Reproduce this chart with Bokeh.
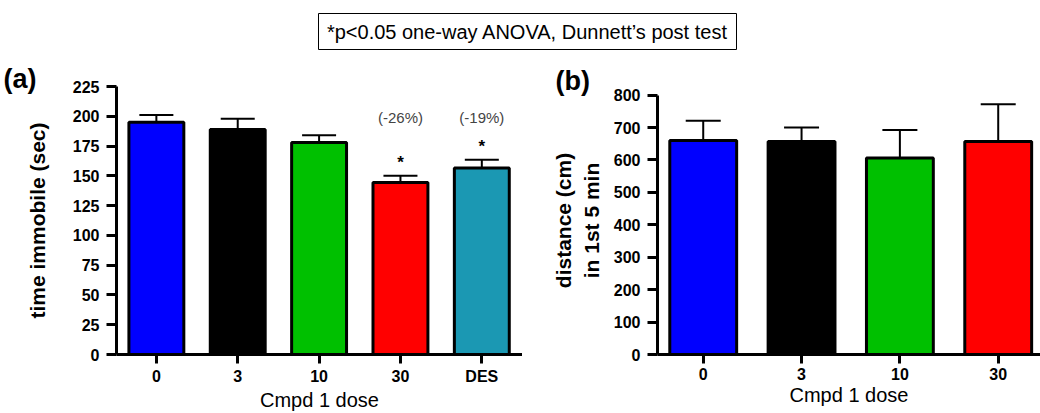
from bokeh.plotting import figure
from bokeh.models import Range1d, FixedTicker, Label, ColumnDataSource, Whisker, TeeHead, BoxAnnotation
from bokeh.layouts import column, row
from bokeh.embed import file_html
from bokeh.resources import INLINE
from bokeh.core.properties import value

FONT = "Liberation Sans"

# ---------------- data ----------------
a_doses = ["0", "3", "10", "30", "DES"]
a_means = [195, 189, 178, 144.5, 156.5]
a_sem = [6, 9, 6, 5.5, 7]
a_colors = ["#0000ff", "#000000", "#00c000", "#ff0000", "#1b98b3"]
a_pct = ["", "", "", "(-26%)", "(-19%)"]
a_sig = ["", "", "", "*", "*"]
a_yticks = [0, 25, 50, 75, 100, 125, 150, 175, 200, 225]

b_doses = ["0", "3", "10", "30"]
b_means = [660, 657, 606, 657]
b_sem = [61, 43, 86, 115]
b_colors = ["#0000ff", "#000000", "#00c000", "#ff0000"]
b_yticks = [0, 100, 200, 300, 400, 500, 600, 700, 800]

note_text = "*p<0.05 one-way ANOVA, Dunnett\u2019s post test"


def style_axes(p, yticks, xlabels, ylabel):
    p.xaxis.ticker = FixedTicker(ticks=list(range(len(xlabels))))
    p.xaxis.major_label_overrides = {i: t for i, t in enumerate(xlabels)}
    p.yaxis.ticker = FixedTicker(ticks=yticks)
    p.yaxis.bounds = (yticks[0], yticks[-1])
    p.xgrid.visible = False
    p.ygrid.visible = False
    p.outline_line_color = None
    for ax in (p.xaxis[0], p.yaxis[0]):
        ax.axis_line_width = 3
        ax.axis_line_color = "black"
        ax.major_tick_line_width = 3
        ax.major_tick_line_color = "black"
        ax.major_tick_in = 0
        ax.minor_tick_line_color = None
        ax.major_label_text_font = FONT
        ax.major_label_text_font_style = "bold"
        ax.major_label_text_font_size = "16px"
        ax.major_label_text_color = "black"
        ax.axis_label_text_color = "black"
        ax.axis_label_text_font = FONT
    p.xaxis.major_tick_out = 9
    p.yaxis.major_tick_out = 10
    p.xaxis.major_label_standoff = 4
    p.yaxis.major_label_standoff = 7
    p.xaxis.axis_label = "Cmpd 1 dose"
    p.xaxis.axis_label_text_font_style = "normal"
    p.xaxis.axis_label_text_font_size = "20px"
    p.xaxis.axis_label_standoff = 1
    p.yaxis.axis_label = ylabel
    p.yaxis.axis_label_text_font_style = "bold"
    p.yaxis.axis_label_text_font_size = "21px"


def bars(p, doses, means, sem, colors, width, cap):
    xs = list(range(len(doses)))
    src = ColumnDataSource(dict(x=xs, top=means, color=colors,
                                upper=[m + s for m, s in zip(means, sem)]))
    p.vbar(x="x", top="top", width=width, bottom=0, source=src,
           fill_color="color", line_color="black", line_width=3)
    w = Whisker(source=src, base="x", upper="upper", lower="top",
                line_width=2, line_color="black", lower_head=None,
                upper_head=TeeHead(size=cap, line_width=2, line_color="black"))
    p.add_layout(w)
    return src


# ---------------- top strip with note box ----------------
top = figure(width=1040, height=56, x_range=Range1d(0, 1040), y_range=Range1d(0, 56),
             output_backend="svg", toolbar_location=None,
             x_axis_location=None, y_axis_location=None, min_border=0)
top.xgrid.visible = False
top.ygrid.visible = False
top.outline_line_color = None
top.add_layout(BoxAnnotation(left=318, right=736, bottom=7, top=43,
                             fill_alpha=0, line_color="black", line_alpha=1, line_width=1))
top.add_layout(Label(x=527, y=25, text=note_text, text_align="center",
                     text_baseline="middle", text_font=FONT, text_font_size="20px",
                     text_color="black"))

# ---------------- panel (a) ----------------
pa = figure(width=522, height=357, x_range=Range1d(-0.49, 4.5), y_range=Range1d(0, 225),
            output_backend="svg", toolbar_location=None,
            min_border_left=116, min_border_right=0, min_border_top=28, min_border_bottom=58)
style_axes(pa, a_yticks, a_doses, "time immobile (sec)")
pa.yaxis.axis_label_standoff = 21
bars(pa, a_doses, a_means, a_sem, a_colors, 0.675, 34)

idx = [i for i, s in enumerate(a_sig) if s]
pa.text(x=idx, y=[a_means[i] + a_sem[i] for i in idx], text=[a_sig[i] for i in idx],
        text_align="center", text_baseline="middle", y_offset=-13,
        text_font=value(FONT), text_font_size="17px", text_font_style="bold",
        text_color="black")
idx = [i for i, s in enumerate(a_pct) if s]
pa.text(x=idx, y=[199] * len(idx), text=[a_pct[i] for i in idx],
        text_align="center", text_baseline="middle",
        text_font=value(FONT), text_font_size="15px", text_color="#444444")
# panel letter placed in the top side panel (not clipped by the frame)
pa.add_layout(Label(x=-113, y=8, x_units="screen", y_units="screen", text="(a)",
                    text_align="left", text_baseline="middle", text_font=FONT,
                    text_font_size="27px", text_font_style="bold", text_color="black"),
              "above")

# ---------------- panel (b) ----------------
# frame top shared with panel (a); y axis line bounded at 800
pb = figure(width=518, height=357, x_range=Range1d(-0.465, 3.43), y_range=Range1d(0, 826.5),
            output_backend="svg", toolbar_location=None,
            min_border_left=135, min_border_right=0, min_border_top=28, min_border_bottom=58)
style_axes(pb, b_yticks, b_doses, "distance (cm)\nin 1st 5 min")
pb.yaxis.axis_label_standoff = 8
bars(pb, b_doses, b_means, b_sem, b_colors, 0.68, 35)
pb.add_layout(Label(x=-102, y=6, x_units="screen", y_units="screen", text="(b)",
                    text_align="left", text_baseline="middle", text_font=FONT,
                    text_font_size="27px", text_font_style="bold", text_color="black"),
              "above")

layout = column(top, row(pa, pb))
open("out.html", "w").write(file_html(layout, INLINE))
